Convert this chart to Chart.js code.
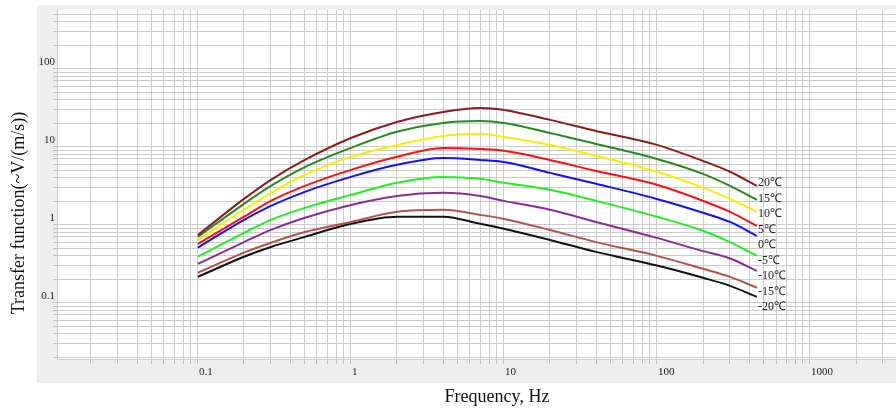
<!DOCTYPE html>
<html><head><meta charset="utf-8">
<script src="https://cdn.jsdelivr.net/npm/chart.js@4.4.0/dist/chart.umd.min.js"></script>
<style>html,body{margin:0;padding:0;background:#fff;}#wrap{width:896px;height:412px;position:relative;}</style>
</head><body><div id="wrap"><canvas id="c" width="896" height="412"></canvas></div>
<script>
// ---- data ----
const frequencies = [0.1, 0.2, 0.3, 0.5, 1, 2, 4, 7, 10, 20, 40, 100, 200, 300, 450];
const seriesLabels = ['20℃', '15℃', '10℃', '5℃', '0℃', '-5℃', '-10℃', '-15℃', '-20℃'];
const tfPlus20  = [0.74, 2.15, 3.78, 6.8, 13.0, 20.9, 28.1, 31.6, 29.8, 22.2, 16.0, 10.6, 6.6, 4.8, 3.16];
const tfPlus15  = [0.70, 1.86, 3.16, 5.5, 9.7, 15.6, 20.3, 21.5, 20.3, 15.1, 10.9, 7.0, 4.5, 3.16, 2.09];
const tfPlus10  = [0.64, 1.56, 2.57, 4.4, 7.45, 10.6, 13.8, 14.7, 13.4, 10.6, 7.7, 4.8, 3.0, 2.15, 1.47];
const tfPlus5   = [0.57, 1.27, 2.03, 3.16, 5.07, 7.45, 9.7, 9.4, 8.9, 6.8, 4.9, 3.26, 2.03, 1.47, 0.97];
const tfZero    = [0.51, 1.16, 1.75, 2.65, 4.12, 5.88, 7.2, 6.8, 6.4, 4.64, 3.36, 2.15, 1.43, 1.09, 0.72];
const tfMinus5  = [0.39, 0.79, 1.16, 1.65, 2.42, 3.46, 4.12, 3.89, 3.46, 2.81, 2.03, 1.27, 0.84, 0.6, 0.4];
const tfMinus10 = [0.316, 0.6, 0.86, 1.23, 1.8, 2.35, 2.57, 2.35, 2.03, 1.56, 1.09, 0.68, 0.46, 0.37, 0.257];
const tfMinus15 = [0.243, 0.44, 0.59, 0.81, 1.09, 1.47, 1.56, 1.34, 1.19, 0.86, 0.6, 0.4, 0.273, 0.215, 0.156];
const tfMinus20 = [0.215, 0.39, 0.52, 0.7, 1.03, 1.27, 1.27, 1.03, 0.89, 0.64, 0.45, 0.3, 0.209, 0.165, 0.119];
const xTickLabels = ['0.1', '1', '10', '100', '1000'];
const yTickLabels = ['0.1', '1', '10', '100'];
const xTitle = 'Frequency, Hz';
const yTitle = 'Transfer function(~V/(m/s))';

// ---- styling ----
const seriesValues = [tfPlus20, tfPlus15, tfPlus10, tfPlus5, tfZero, tfMinus5, tfMinus10, tfMinus15, tfMinus20];
const seriesColors = ['#8a1c1c', '#228b22', '#f6f000', '#ff1010', '#1010ff', '#22ee22', '#8a2e96', '#b0524e', '#111111'];
const SERIF = '"Liberation Serif", "Times New Roman", serif';

function logTicks(scale) {
  const out = [];
  const lo = Math.floor(Math.log10(scale.min)), hi = Math.ceil(Math.log10(scale.max));
  for (let e = lo; e <= hi; e++) {
    for (let m = 1; m <= 9; m++) {
      const v = +(m * Math.pow(10, e)).toPrecision(8);
      if (v >= scale.min && v <= scale.max) out.push({ value: v, major: m === 1 });
    }
  }
  scale.ticks = out;
}
function labelFrom(list) {
  return (v) => list.find(l => Math.abs(parseFloat(l) - v) < 1e-6 * v) || '';
}

const panelPlugin = {
  id: 'panel',
  beforeDraw(chart) {
    const { ctx, chartArea: ca } = chart;
    ctx.save();
    ctx.fillStyle = '#eeeeee';
    ctx.fillRect(ca.left - 20, ca.top - 5, chart.width - (ca.left - 20), (ca.bottom + 24) - (ca.top - 5));
    ctx.fillStyle = '#ffffff';
    ctx.fillRect(ca.left, ca.top, ca.right - ca.left, ca.bottom - ca.top);
    ctx.restore();
  }
};

const textPlugin = {
  id: 'texts',
  afterDatasetsDraw(chart) {
    const { ctx } = chart;
    const xs = chart.scales.x, ys = chart.scales.y;
    ctx.save();
    ctx.font = '12px ' + SERIF;
    ctx.fillStyle = '#1a1a1a';
    ctx.textAlign = 'left';
    ctx.textBaseline = 'middle';
    const lastIdx = frequencies.length - 1;
    const x0 = xs.getPixelForValue(frequencies[lastIdx]) + 1;
    const y0 = ys.getPixelForValue(seriesValues[0][lastIdx]) - 3;
    seriesLabels.forEach((lab, i) => ctx.fillText(lab, x0, y0 + i * 15.5));
    ctx.restore();
  },
  afterDraw(chart) {
    const { ctx } = chart;
    ctx.save();
    ctx.fillStyle = '#111';
    ctx.font = '18px ' + SERIF;
    ctx.textAlign = 'center';
    ctx.textBaseline = 'middle';
    ctx.fillText(xTitle, 497, 397);
    ctx.translate(19, 213);
    ctx.rotate(-Math.PI / 2);
    ctx.fillText(yTitle, 0, 0);
    ctx.restore();
  }
};

const gridColor = '#cccccc';

new Chart(document.getElementById('c'), {
  type: 'line',
  data: {
    datasets: seriesValues.map((vals, i) => ({
      label: seriesLabels[i],
      data: frequencies.map((f, j) => ({ x: f, y: vals[j] })),
      borderColor: seriesColors[i],
      backgroundColor: seriesColors[i],
      borderWidth: 2,
      pointRadius: 0,
      cubicInterpolationMode: 'monotone',
      fill: false
    }))
  },
  options: {
    responsive: false,
    animation: false,
    devicePixelRatio: 1,
    layout: { padding: { left: 0, right: 0, top: 10, bottom: 0 } },
    plugins: { legend: { display: false }, title: { display: false }, tooltip: { enabled: false } },
    scales: {
      x: {
        type: 'logarithmic',
        position: 'bottom',
        min: 0.012,
        max: 3650,
        afterBuildTicks: logTicks,
        afterFit: (s) => { s.height = 53; },
        grid: { color: gridColor, tickColor: '#bdbdbd', tickLength: 5, drawTicks: true },
        border: { color: gridColor },
        ticks: {
          autoSkip: false, maxRotation: 0, minRotation: 0, align: 'start',
          labelOffset: 1, padding: 2, color: '#222',
          font: { family: SERIF, size: 11 },
          callback: labelFrom(xTickLabels)
        }
      },
      y: {
        type: 'logarithmic',
        position: 'left',
        min: 0.019,
        max: 570,
        afterBuildTicks: logTicks,
        afterFit: (s) => { s.width = 57; },
        grid: { color: gridColor, tickColor: '#bdbdbd', tickLength: 4, drawTicks: true },
        border: { color: gridColor },
        ticks: {
          autoSkip: false, padding: -2, labelOffset: -7, color: '#222',
          font: { family: SERIF, size: 11 },
          callback: labelFrom(yTickLabels)
        }
      }
    }
  },
  plugins: [panelPlugin, textPlugin]
});
</script>
</body></html>
